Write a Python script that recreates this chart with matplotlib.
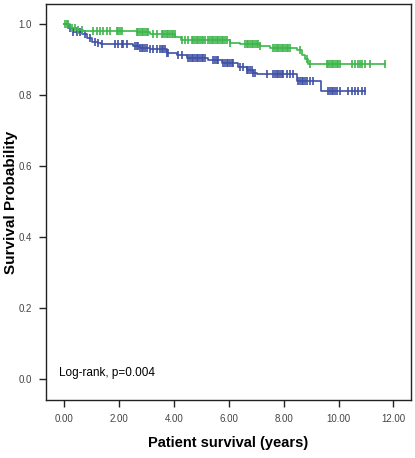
import numpy as np
import matplotlib
matplotlib.use('Agg')
from matplotlib import pyplot as plt

# Kaplan-Meier steps (time in years, survival)
green_t = [0.0, 0.22, 0.46, 0.70, 2.65, 3.13, 4.05, 4.25, 6.05, 6.41, 7.14, 7.50, 8.48, 8.66, 8.78, 8.90]
green_s = [1.0, 0.988, 0.983, 0.980, 0.976, 0.971, 0.962, 0.955, 0.947, 0.943, 0.938, 0.933, 0.927, 0.913, 0.900, 0.886]
green_end = 11.69

blue_t = [0.0, 0.16, 0.34, 0.64, 0.83, 1.01, 1.25, 1.35, 2.53, 2.77, 3.13, 3.74, 4.10, 4.47, 5.25, 5.74, 6.35, 6.65, 6.90, 7.02, 8.48, 9.35]
blue_s = [1.0, 0.988, 0.978, 0.973, 0.960, 0.950, 0.945, 0.943, 0.938, 0.933, 0.928, 0.917, 0.913, 0.903, 0.897, 0.889, 0.879, 0.870, 0.862, 0.858, 0.838, 0.810]
blue_end = 10.97

# censored observations
green_cens = [0.04, 0.10, 0.16, 0.28, 0.40, 0.52, 0.64, 1.07, 1.19, 1.31, 1.43, 1.55, 1.68,
              1.92, 1.98, 2.04, 2.10, 2.65, 2.71, 2.77, 2.83, 2.89, 2.95, 3.01, 3.07, 3.25,
              3.38, 3.56, 3.62, 3.68, 3.74, 3.80, 3.86, 3.92, 3.98, 4.04, 4.29, 4.41, 4.53,
              4.65, 4.71, 4.77, 4.83, 4.89, 4.95, 5.02, 5.08, 5.14, 5.26, 5.32, 5.38, 5.44,
              5.50, 5.56, 5.62, 5.68, 5.74, 5.80, 5.87, 5.93, 6.05, 6.59, 6.65, 6.72, 6.78,
              6.84, 6.90, 6.96, 7.02, 7.08, 7.14, 7.63, 7.69, 7.75, 7.81, 7.87, 7.93, 7.99,
              8.05, 8.11, 8.17, 8.23, 8.60, 8.84, 8.96, 9.57, 9.63, 9.69, 9.75, 9.81, 9.87,
              9.93, 9.99, 10.05, 10.48, 10.60, 10.72, 10.78, 10.84, 10.97, 11.15, 11.69]
blue_cens = [0.22, 0.34, 0.46, 0.58, 0.77, 0.95, 1.13, 1.25, 1.37, 1.86, 1.98, 2.10, 2.16,
             2.28, 2.59, 2.65, 2.71, 2.77, 2.83, 2.89, 2.95, 3.01, 3.13, 3.25, 3.38, 3.50,
             3.56, 3.62, 3.68, 3.74, 3.80, 4.17, 4.29, 4.53, 4.59, 4.65, 4.71, 4.77, 4.83,
             4.89, 4.95, 5.02, 5.08, 5.14, 5.44, 5.50, 5.56, 5.62, 5.80, 5.87, 5.93, 5.99,
             6.05, 6.11, 6.17, 6.41, 6.53, 6.65, 6.72, 6.78, 6.84, 6.90, 6.96, 7.38, 7.63,
             7.69, 7.75, 7.81, 7.87, 7.93, 7.99, 8.11, 8.23, 8.35, 8.54, 8.60, 8.66, 8.72,
             8.78, 8.84, 8.96, 9.08, 9.63, 9.69, 9.75, 9.81, 9.87, 9.93, 10.05, 10.36, 10.48,
             10.60, 10.72, 10.84, 10.97]

xticks = [0, 2, 4, 6, 8, 10, 12]
yticks = [0.0, 0.2, 0.4, 0.6, 0.8, 1.0]

GREEN = '#3db54a'
BLUE = '#3f51a5'
FONT = ['Liberation Sans', 'DejaVu Sans']


def draw_curve(ax, t, s, end, cens, color):
    """Step curve with censor ticks."""
    tt = list(t) + [end]
    ss = list(s) + [s[-1]]
    ax.step(tt, ss, where='post', color=color, lw=1.2)
    idx = np.searchsorted(t, cens, side='right') - 1
    cy = np.array(s)[idx]
    ax.plot(cens, cy, ls='none', marker='|', ms=6, mew=1.2, color=color)


fig = plt.figure(figsize=(4.15, 4.58), dpi=100)
ax = fig.add_axes([0.1108, 0.1266, 0.8795, 0.8646])

draw_curve(ax, blue_t, blue_s, blue_end, blue_cens, BLUE)
draw_curve(ax, green_t, green_s, green_end, green_cens, GREEN)

ax.set_xlim(-0.656, 12.64)
ax.set_ylim(-0.059, 1.056)
ax.set_xticks(xticks)
ax.set_xticklabels(['%.2f' % v for v in xticks], family=FONT)
ax.set_yticks(yticks)
ax.set_yticklabels(['%.1f' % v for v in yticks], family=FONT)
ax.tick_params(axis='both', labelsize=7, colors='#222222', length=5, width=1.0, pad=5)
ax.tick_params(axis='x', labelcolor='#444444')
ax.tick_params(axis='y', labelcolor='#444444')
for sp in ax.spines.values():
    sp.set_linewidth(1.0)
    sp.set_color('#222222')

ax.text(-0.18, 0.0, 'Log-rank, p=0.004', fontsize=8.5, va='bottom', ha='left', family=FONT)

ax.set_ylabel('Survival Probability', fontsize=11, fontweight='bold', family=FONT)
ax.yaxis.set_label_coords(-0.078, 0.5)
ax.set_xlabel('Patient survival (years)', fontsize=10.5, fontweight='bold',
              family=['Liberation Sans Narrow'] + FONT)
ax.xaxis.set_label_coords(0.5, -0.092)

fig.savefig('out.png', dpi=100)
